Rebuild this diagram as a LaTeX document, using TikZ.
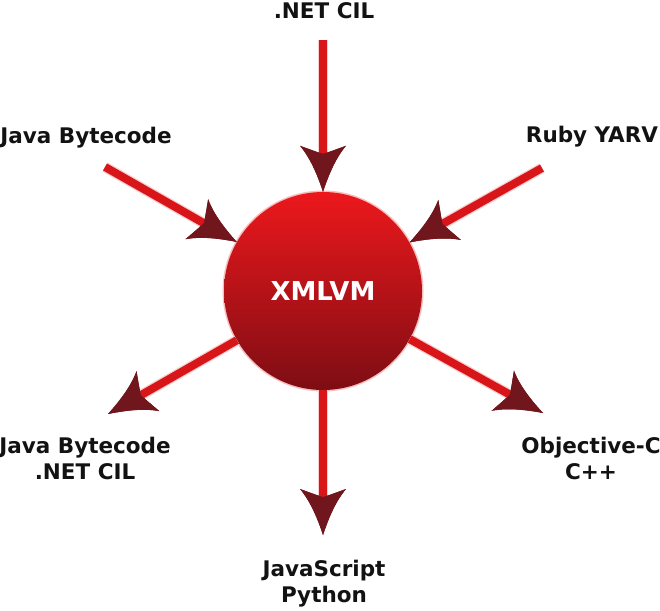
\documentclass[tikz,border=0pt]{standalone}
\usepackage{fontspec}
\setmainfont{DejaVu Sans}
\usetikzlibrary{arrows.meta}
\definecolor{arrowdark}{RGB}{112,22,28}
\definecolor{shaftred}{RGB}{216,22,26}
\definecolor{shafthalo}{RGB}{250,205,205}
\definecolor{ballhi}{RGB}{236,24,28}
\definecolor{ballmid}{RGB}{200,19,25}
\definecolor{balllo}{RGB}{126,13,20}
\definecolor{ballglow}{RGB}{248,190,190}
\definecolor{labelblack}{RGB}{18,18,18}
\pgfdeclarearrow{
  name=Barb,
  setup code={
    \pgfarrowssettipend{0pt}
    \pgfarrowssetlineend{-34pt}
    \pgfarrowssetbackend{-46pt}
    \pgfarrowshullpoint{0pt}{0pt}
    \pgfarrowshullpoint{-46pt}{23pt}
    \pgfarrowshullpoint{-46pt}{-23pt}
  },
  drawing code={
    \pgfpathmoveto{\pgfqpoint{0pt}{0pt}}
    \pgfpathcurveto{\pgfqpoint{-15pt}{5pt}}{\pgfqpoint{-33pt}{12pt}}{\pgfqpoint{-46pt}{23pt}}
    \pgfpathcurveto{\pgfqpoint{-42pt}{12pt}}{\pgfqpoint{-39pt}{4pt}}{\pgfqpoint{-38pt}{0pt}}
    \pgfpathcurveto{\pgfqpoint{-39pt}{-4pt}}{\pgfqpoint{-42pt}{-12pt}}{\pgfqpoint{-46pt}{-23pt}}
    \pgfpathcurveto{\pgfqpoint{-33pt}{-12pt}}{\pgfqpoint{-15pt}{-5pt}}{\pgfqpoint{0pt}{0pt}}
    \pgfpathclose
    \pgfsetfillcolor{arrowdark}
    \pgfusepathqfill
  },
  defaults={}
}
\tikzset{
  lbl/.style={font=\bfseries\fontsize{21.5}{26}\selectfont, text=labelblack, align=center, inner sep=0pt},
  shaft/.style={draw=shaftred, line width=8pt, -{Barb}, preaction={draw=shafthalo, line width=10.5pt}},
  ball/.style={circle, minimum size=198pt, inner sep=0pt, top color=ballhi, middle color=ballmid, bottom color=balllo, text=white, font=\bfseries\fontsize{26}{30}\selectfont}
}
\begin{document}
\begin{tikzpicture}[x=1pt,y=-1pt]
\useasboundingbox[fill=white] (0,0) rectangle (660,610);
% labels
\node[lbl] (ltop) at (324,11) {.NET CIL};
\node[lbl] (ljb) at (86,138) {Java Bytecode};
\node[lbl] (lrb) at (592,137) {Ruby YARV};
\node[lbl] (lbl1) at (85,458) {Java Bytecode\\.NET CIL};
\node[lbl] (lbr) at (591,458) {Objective-C\\C++};
\node[lbl] (lbot) at (324,584) {JavaScript\\Python};
% ends of connectors
\coordinate (s1) at (323,40);
\coordinate (s2) at (105,167);
\coordinate (s3) at (542,168);
\coordinate (e4) at (108,414);
\coordinate (e5) at (323,535);
\coordinate (e6) at (543,413);
% central ball
\fill[ballglow] (323,291) circle (100.5pt);
\node[ball] (c) at (323,291) {XMLVM};
% connectors
\draw[shaft] (s1) -- (c);
\draw[shaft] (s2) -- (c);
\draw[shaft] (s3) -- (c);
\draw[shaft] (c) -- (e4);
\draw[shaft] (c) -- (e5);
\draw[shaft] (c) -- (e6);
\end{tikzpicture}
\end{document}
